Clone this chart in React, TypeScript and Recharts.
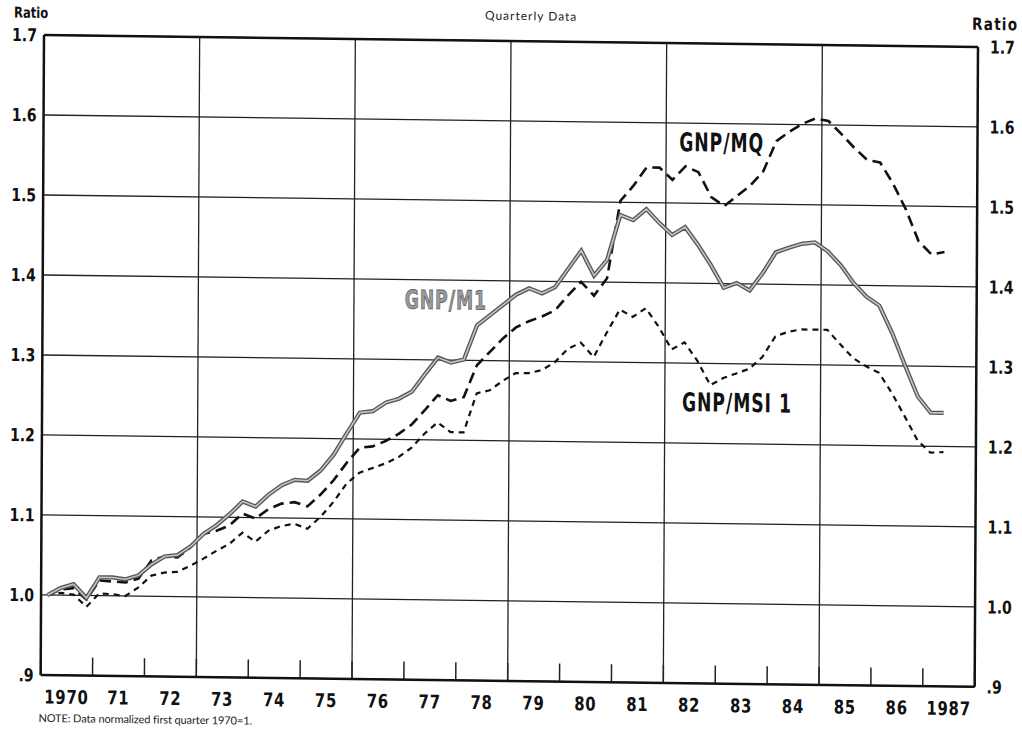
import { LineChart, Line, XAxis, YAxis, CartesianGrid, ReferenceLine, ReferenceDot } from 'recharts';

const firstYear = 1970;

// quarterly ratios, normalized 1970 Q1 = 1
const gnpM1 = [
  1.000, 1.009, 1.014, 0.997, 1.023, 1.023, 1.021, 1.026, 1.040, 1.050,
  1.052, 1.063, 1.079, 1.090, 1.104, 1.120, 1.114, 1.129, 1.141, 1.148,
  1.147, 1.160, 1.180, 1.207, 1.233, 1.235, 1.246, 1.251, 1.260, 1.282,
  1.303, 1.297, 1.301, 1.344, 1.357, 1.370, 1.383, 1.391, 1.385, 1.393,
  1.416, 1.439, 1.408, 1.428, 1.484, 1.478, 1.492, 1.475, 1.460, 1.470,
  1.448, 1.423, 1.395, 1.401, 1.392, 1.414, 1.440, 1.446, 1.451, 1.453,
  1.442, 1.425, 1.403, 1.386, 1.375, 1.341, 1.301, 1.262, 1.242, 1.242,
];
const gnpMQ = [
  1.000, 1.007, 1.009, 0.995, 1.019, 1.018, 1.017, 1.022, 1.045, 1.050,
  1.049, 1.062, 1.079, 1.083, 1.090, 1.105, 1.099, 1.111, 1.118, 1.120,
  1.115, 1.130, 1.148, 1.170, 1.189, 1.191, 1.198, 1.207, 1.219, 1.237,
  1.256, 1.249, 1.254, 1.294, 1.311, 1.328, 1.342, 1.350, 1.356, 1.364,
  1.383, 1.400, 1.383, 1.405, 1.502, 1.521, 1.544, 1.544, 1.529, 1.546,
  1.539, 1.508, 1.497, 1.510, 1.523, 1.541, 1.579, 1.591, 1.601, 1.608,
  1.605, 1.589, 1.572, 1.557, 1.554, 1.528, 1.496, 1.456, 1.440, 1.443,
];
const gnpMSI1 = [
  1.000, 1.003, 1.001, 0.986, 1.003, 1.002, 1.000, 1.011, 1.026, 1.030,
  1.031, 1.039, 1.048, 1.058, 1.067, 1.081, 1.070, 1.084, 1.090, 1.093,
  1.087, 1.102, 1.121, 1.144, 1.158, 1.164, 1.170, 1.178, 1.190, 1.208,
  1.222, 1.210, 1.210, 1.259, 1.263, 1.275, 1.285, 1.285, 1.289, 1.299,
  1.316, 1.324, 1.306, 1.337, 1.366, 1.357, 1.368, 1.345, 1.317, 1.326,
  1.303, 1.273, 1.282, 1.288, 1.294, 1.309, 1.335, 1.341, 1.344, 1.344,
  1.344, 1.326, 1.309, 1.299, 1.291, 1.266, 1.237, 1.207, 1.192, 1.193,
];

const quarterLabels = gnpM1.map((_, i) => `${firstYear + Math.floor(i / 4)}Q${(i % 4) + 1}`);
const yearTickLabels = ['1970', '71', '72', '73', '74', '75', '76', '77', '78', '79', '80', '81', '82', '83', '84', '85', '86', '1987'];
const ratioTicks = [0.9, 1.0, 1.1, 1.2, 1.3, 1.4, 1.5, 1.6, 1.7];
const gridYears = [1973, 1976, 1979, 1982, 1985];

const data = quarterLabels.map((q, i) => ({
  quarter: q,
  t: parseInt(q, 10) + (Number(q.slice(-1)) - 0.5) / 4,
  m1: gnpM1[i],
  mq: gnpMQ[i],
  msi: gnpMSI1[i],
}));

const yearCenters = yearTickLabels.map((_, i) => firstYear + i + 0.5);
const yearBounds = Array.from({ length: yearTickLabels.length + 1 }, (_, i) => firstYear + i);

const BOLD = "'DejaVu Sans', sans-serif";
const ROUND = "Lato, 'DejaVu Sans', sans-serif";

const fmtRatio = (v: number) => (v < 1 ? '.9' : v.toFixed(1));

function YearTick({ x, y, payload }: any) {
  return (
    <text transform={`translate(${x},${y}) scale(0.78,1)`} textAnchor="middle" dy="0.71em"
      fontFamily={BOLD} fontWeight={700} fontSize={19} letterSpacing={1} fill="#111">
      {yearTickLabels[Math.floor(payload.value) - firstYear]}
    </text>
  );
}

function RatioTick({ x, y, payload, textAnchor }: any) {
  return (
    <text transform={`translate(${x},${y}) scale(0.78,1)`} textAnchor={textAnchor} dy="0.36em"
      fontFamily={BOLD} fontWeight={700} fontSize={18} fill="#111">
      {fmtRatio(payload.value)}
    </text>
  );
}

const NoTick = () => <g />;

function SeriesTag({ viewBox, text, fill, stroke }: any) {
  if (!viewBox) return null;
  return (
    <text
      transform={`translate(${viewBox.x},${viewBox.y}) scale(0.66,1)`}
      textAnchor="middle"
      dominantBaseline="central"
      fontFamily={BOLD}
      fontWeight={700}
      fontSize={26}
      letterSpacing={1.5}
      fill={fill}
      stroke={stroke}
      strokeWidth={stroke ? 0.8 : 0}
    >
      {text}
    </text>
  );
}

const ratioHead = { position: 'absolute' as const, fontFamily: BOLD, fontWeight: 700, color: '#111', transformOrigin: 'left top' };

export default function App() {
  return (
    <div
      style={{
        position: 'absolute',
        left: 0,
        top: 0,
        width: 1022,
        height: 736,
        background: '#fff',
        transform: 'skewY(0.73deg) skewX(-0.3deg)',
        transformOrigin: '44px 35px',
      }}
    >
      <div style={{ ...ratioHead, left: 14, top: 4, fontSize: 15, transform: 'scaleX(0.77)' }}>Ratio</div>
      <div style={{ ...ratioHead, left: 972, top: 2, fontSize: 17, letterSpacing: 1.5, transform: 'scaleX(0.8)' }}>Ratio</div>
      <div style={{ position: 'absolute', left: 0, width: 1062, top: 2, textAlign: 'center', fontFamily: ROUND, fontSize: 12, letterSpacing: 1, color: '#222' }}>
        Quarterly Data
      </div>
      <div style={{ position: 'absolute', left: 42, top: 711, fontFamily: ROUND, fontSize: 11, letterSpacing: -0.1, color: '#222' }}>
        NOTE: Data normalized first quarter 1970=1.
      </div>

      <LineChart width={1022} height={736} data={data} margin={{ top: 35, right: 0, bottom: 0, left: 0 }}>
        <XAxis
          xAxisId="marks"
          dataKey="t"
          type="number"
          domain={[firstYear, firstYear + yearTickLabels.length]}
          ticks={yearBounds}
          mirror
          height={1}
          axisLine={false}
          tick={NoTick}
          tickSize={18}
          tickLine={{ stroke: '#222', strokeWidth: 1.5 }}
          interval={0}
        />
        <XAxis
          xAxisId="year"
          dataKey="t"
          type="number"
          domain={[firstYear, firstYear + yearTickLabels.length]}
          ticks={yearCenters}
          height={61}
          tickLine={false}
          tickSize={0}
          tickMargin={15}
          axisLine={{ stroke: '#111', strokeWidth: 2.5 }}
          tick={YearTick}
          interval={0}
        />
        <YAxis
          yAxisId="left"
          type="number"
          domain={[0.9, 1.7]}
          ticks={ratioTicks}
          width={44}
          tickLine={false}
          tickSize={0}
          tickMargin={7}
          axisLine={{ stroke: '#111', strokeWidth: 2.5 }}
          tick={RatioTick}
          interval={0}
        />
        <YAxis
          yAxisId="right"
          orientation="right"
          type="number"
          domain={[0.9, 1.7]}
          ticks={ratioTicks}
          width={44}
          tickLine={false}
          tickSize={0}
          tickMargin={12}
          axisLine={{ stroke: '#111', strokeWidth: 2.5 }}
          tick={RatioTick}
          interval={0}
        />
        <CartesianGrid xAxisId="year" yAxisId="left" vertical={false} stroke="#222" strokeWidth={1.3} />
        {gridYears.map((y) => (
          <ReferenceLine key={y} xAxisId="year" yAxisId="left" x={y} stroke="#222" strokeWidth={1.3} />
        ))}
        <ReferenceLine xAxisId="year" yAxisId="left" y={1.7} stroke="#111" strokeWidth={2.5} />

        {/* keeps the right-hand ratio scale populated */}
        <Line xAxisId="year" yAxisId="right" dataKey="m1" stroke="none" dot={false} activeDot={false} isAnimationActive={false} />

        <Line xAxisId="year" yAxisId="left" dataKey="msi" type="linear" stroke="#111" strokeWidth={2.2} strokeDasharray="6 5" dot={false} activeDot={false} isAnimationActive={false} />
        <Line xAxisId="year" yAxisId="left" dataKey="mq" type="linear" stroke="#111" strokeWidth={2.6} strokeDasharray="11 6" dot={false} activeDot={false} isAnimationActive={false} />
        <Line xAxisId="year" yAxisId="left" dataKey="m1" type="linear" stroke="#555" strokeWidth={4.2} dot={false} activeDot={false} isAnimationActive={false} />
        <Line xAxisId="year" yAxisId="left" dataKey="m1" type="linear" stroke="#c4c4c4" strokeWidth={1.6} dot={false} activeDot={false} isAnimationActive={false} />

        <ReferenceDot xAxisId="year" yAxisId="left" x={1977.77} y={1.375} r={0} label={<SeriesTag text="GNP/M1" fill="#9a9a9a" stroke="#555" />} />
        <ReferenceDot xAxisId="year" yAxisId="left" x={1983.07} y={1.576} r={0} label={<SeriesTag text="GNP/MQ" fill="#111" />} />
        <ReferenceDot xAxisId="year" yAxisId="left" x={1983.39} y={1.251} r={0} label={<SeriesTag text="GNP/MSI 1" fill="#111" />} />
      </LineChart>
    </div>
  );
}
